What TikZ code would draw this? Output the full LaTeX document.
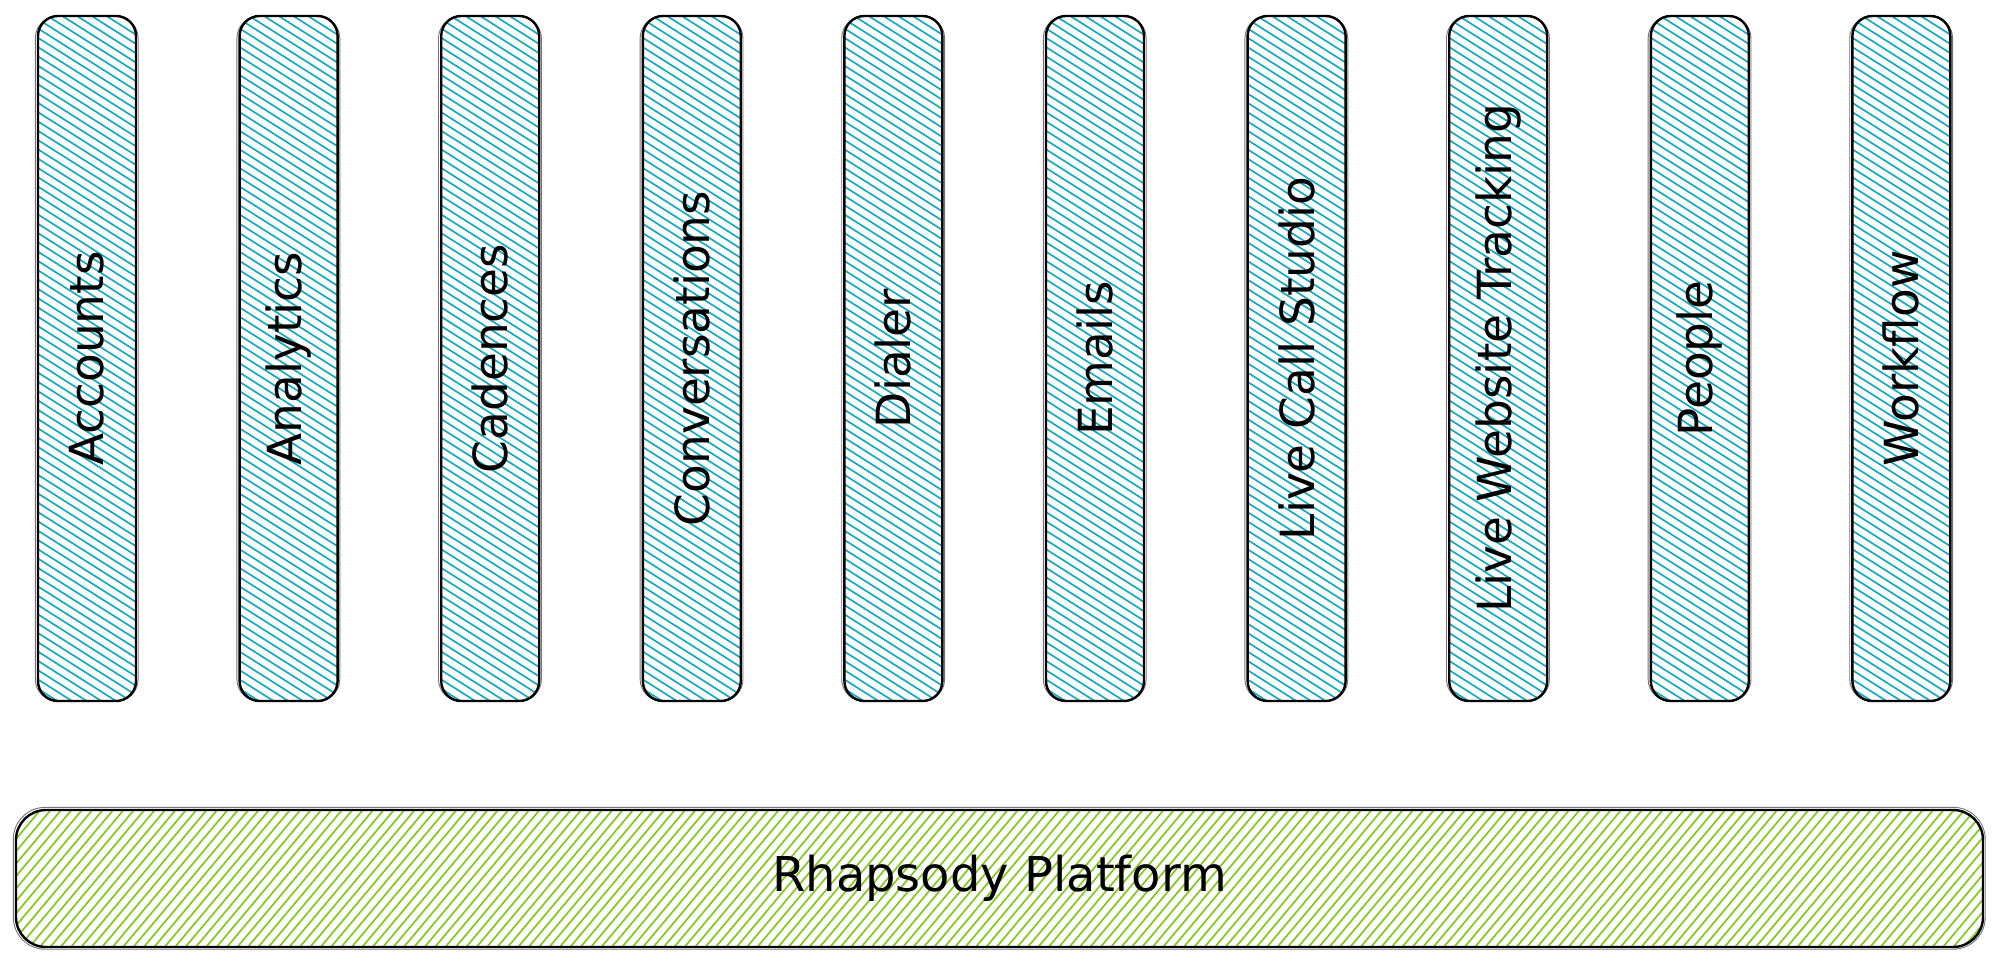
\documentclass[tikz,border=0pt]{standalone}
\usepackage{fontspec}
\setmainfont{DejaVu Sans}
\definecolor{hatchblue}{HTML}{15AABF}
\definecolor{hatchgreen}{HTML}{82C91E}
\tikzset{
  colbox/.style={draw=black, line width=2.4pt, rounded corners=20pt, rotate=90,
    minimum width=685pt, minimum height=98pt, inner sep=0pt,
    font=\fontsize{47}{56}\selectfont},
  platbox/.style={draw=black, line width=2.4pt, rounded corners=30pt,
    minimum width=1967pt, minimum height=137pt, inner sep=0pt,
    font=\fontsize{48}{57}\selectfont},
  bluehatch/.style={draw=hatchblue, line width=1.7pt},
  greenhatch/.style={draw=hatchgreen, line width=1.7pt},
  sketch/.style={draw=black, line width=0.9pt, opacity=0.55}
}
\begin{document}
\begin{tikzpicture}[x=1pt, y=-1pt]
\useasboundingbox (0,0) rectangle (1999,963);
% hatch fills of the columns
\foreach \i in {0,...,9}{
  \pgfmathsetmacro{\xa}{38+\i*201.6}
  \pgfmathsetmacro{\xb}{\xa+98}
  \begin{scope}
    \clip[rounded corners=20pt] (\xa,16) rectangle (\xb,701);
    \foreach \k in {-9,...,75}{
      \draw[bluehatch] (\xa-5,16+\k*9.3) -- ++(120,76);
    }
  \end{scope}
}
% hatch fill of the platform bar
\begin{scope}
  \clip[rounded corners=30pt] (16,810) rectangle (1983,947);
  \foreach \k in {0,...,200}{
    \draw[greenhatch] (-110+\k*10.4,952) -- ++(120,-143);
  }
\end{scope}
% columns
\foreach \name/\txt [count=\n from 0] in {accounts/Accounts, analytics/Analytics,
  cadences/Cadences, conversations/Conversations, dialer/Dialer, emails/Emails,
  livecall/Live Call Studio, livewebsite/Live Website Tracking, people/People,
  workflow/Workflow}{
  \node[colbox] (\name) at (87+\n*201.6, 358.5) {\txt};
  \draw[sketch, rounded corners=22pt] ([xshift=-1.5pt,yshift=1pt]\name.north west) rectangle ([xshift=1pt,yshift=-1.5pt]\name.south east);
}
% platform bar
\node[platbox] (platform) at (999.5, 878.5) {Rhapsody Platform};
\draw[sketch, rounded corners=32pt] ([xshift=-1.5pt,yshift=1.5pt]platform.north west) rectangle ([xshift=1pt,yshift=-1pt]platform.south east);
\end{tikzpicture}
\end{document}
